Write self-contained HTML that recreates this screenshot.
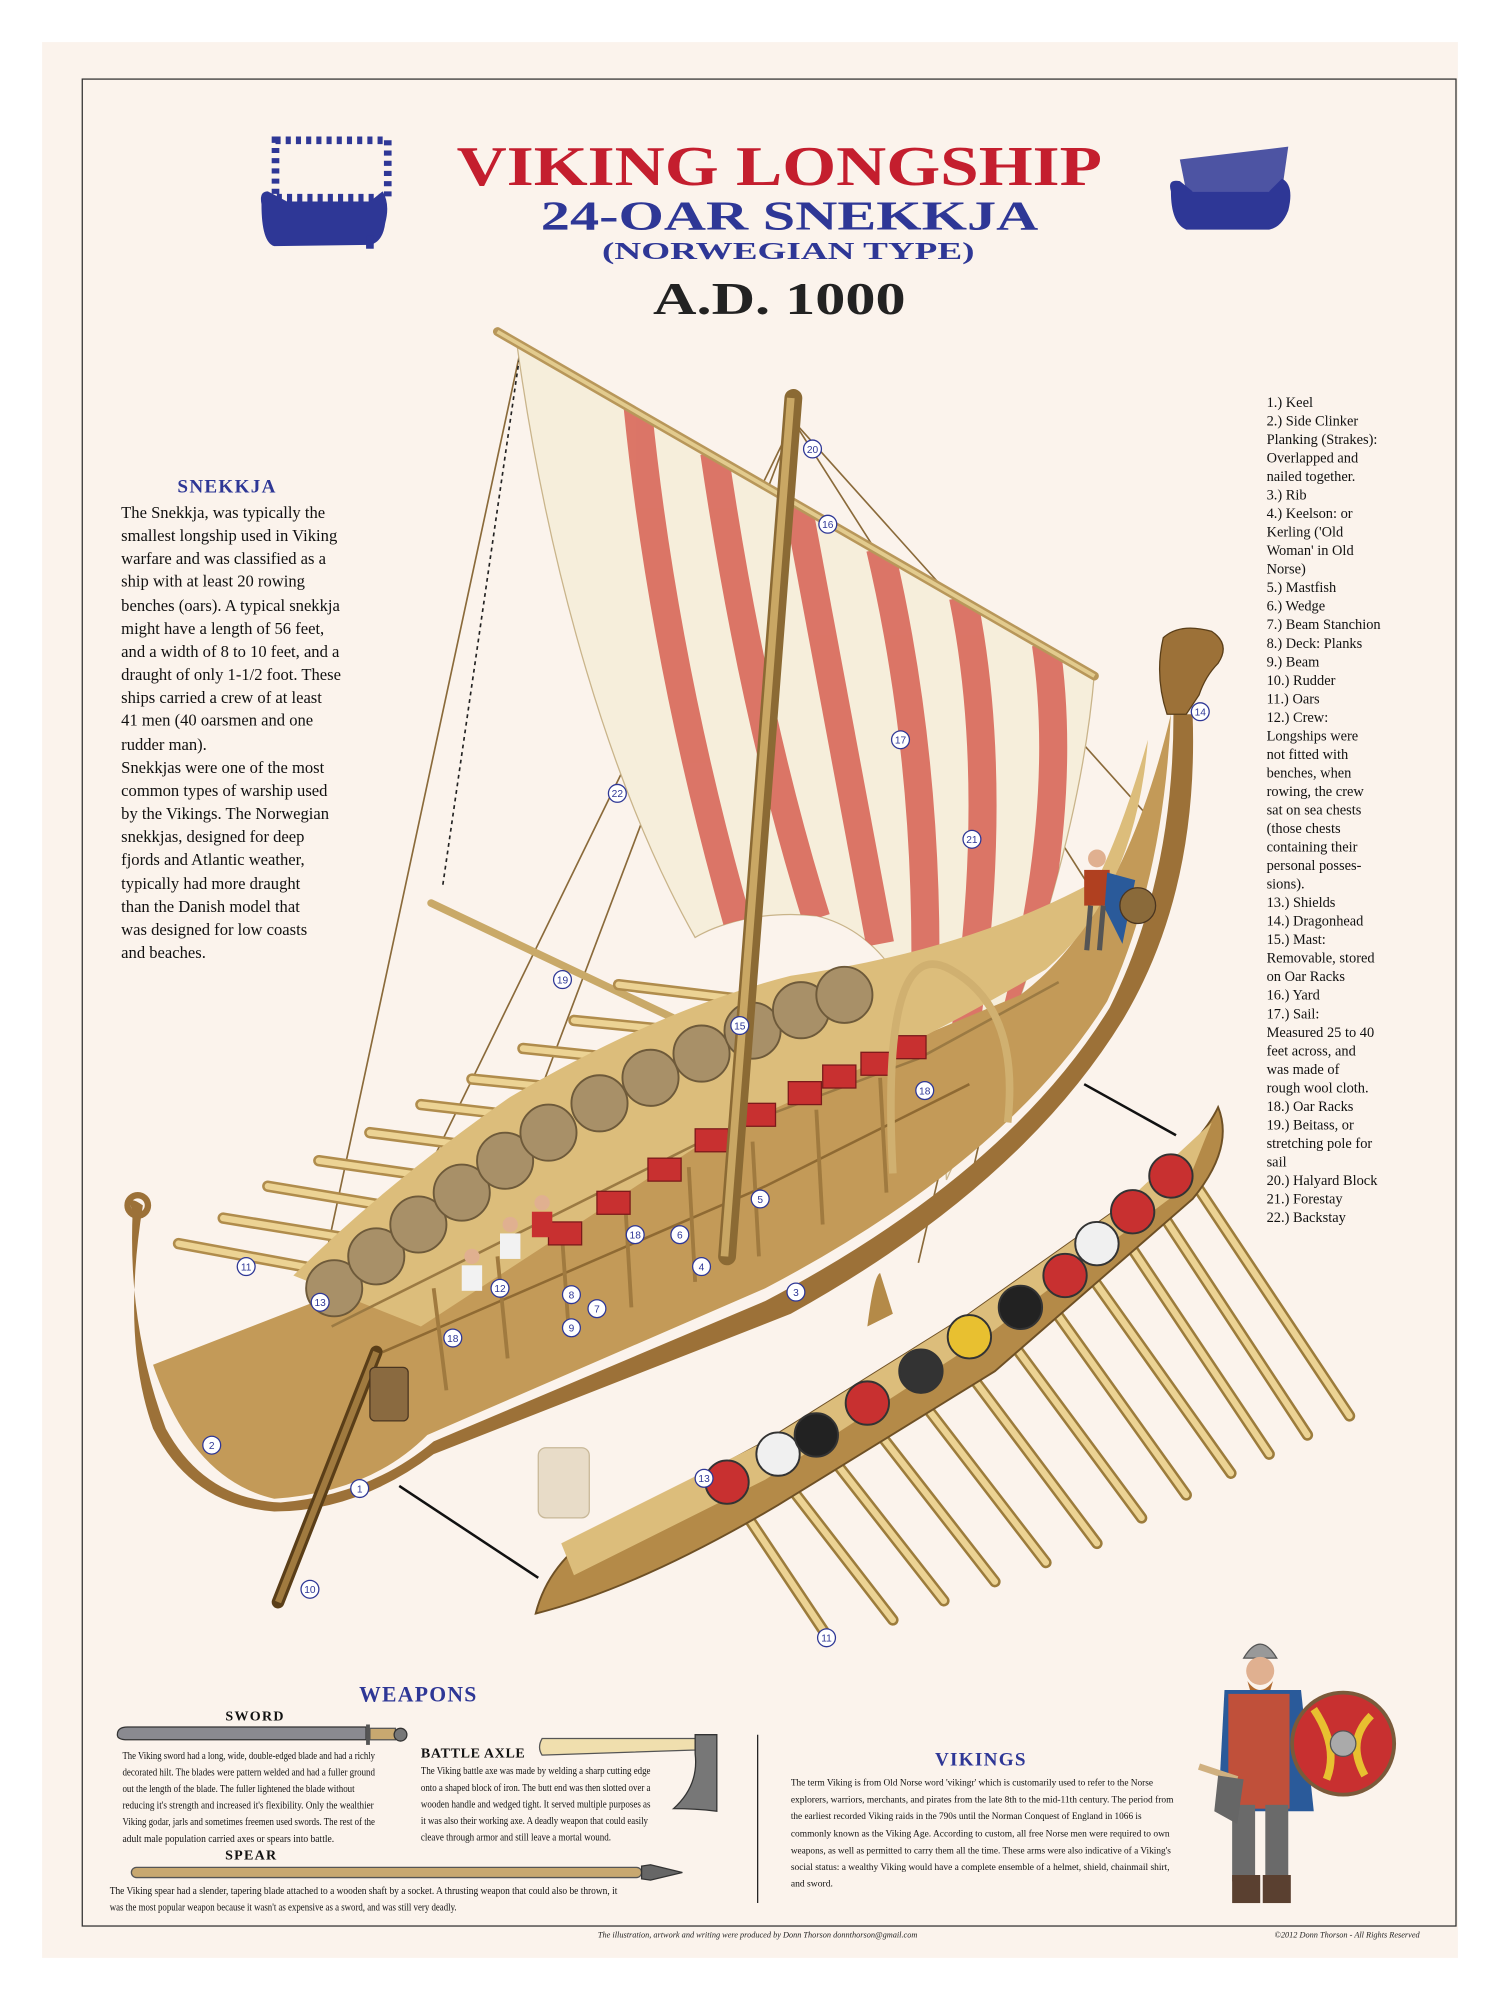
<!DOCTYPE html>
<html><head><meta charset="utf-8"><style>
html,body{margin:0;padding:0;background:#fff;}
svg{display:block;}
.t{font-family:"Liberation Serif",serif;}
</style></head><body>
<svg width="1500" height="2000" viewBox="0 0 1176 1568" xmlns="http://www.w3.org/2000/svg">
<defs>
<clipPath id="sailc"><path d="M405,268 L858,528 C848,650 800,800 742,925 C738,820 710,735 640,718 C580,712 545,735 545,735 C480,620 430,450 405,268Z"/></clipPath>
</defs>
<rect x="0" y="0" width="1176" height="1568" fill="#fff"/>
<rect x="33" y="33" width="1110" height="1502" fill="#fbf3ec"/>
<rect x="64.5" y="62" width="1077" height="1448" fill="none" stroke="#333" stroke-width="1"/>

<!-- logos -->
<g fill="#2e3796">
<rect x="216" y="110" width="88" height="45" fill="none" stroke="#2e3796" stroke-width="6" stroke-dasharray="4 4"/>
<path d="M205,160 Q203,150 210,150 L225,158 L290,158 L300,150 Q306,160 302,175 Q300,190 290,192 L215,193 Q205,190 205,160Z"/>
<rect x="287" y="185" width="6" height="10"/>
<path d="M918,150 Q915,140 925,142 L935,150 L995,150 L1005,140 Q1015,145 1010,165 Q1005,178 995,180 L930,180 Q918,175 918,150Z"/>
<path d="M925,125 L1010,115 L1005,150 L930,150Z" opacity="0.85"/>
</g>

<!-- title -->
<g class="t" text-anchor="middle" font-weight="bold">
<text x="611" y="145" font-size="44" fill="#c41e2e" textLength="506" lengthAdjust="spacingAndGlyphs">VIKING LONGSHIP</text>
<text x="619" y="180" font-size="32" fill="#2e3796" textLength="390" lengthAdjust="spacingAndGlyphs">24-OAR SNEKKJA</text>
<text x="618" y="203" font-size="19" fill="#2e3796" textLength="292" lengthAdjust="spacingAndGlyphs">(NORWEGIAN TYPE)</text>
<text x="611" y="246" font-size="36" fill="#222" textLength="198" lengthAdjust="spacingAndGlyphs">A.D. 1000</text>
</g>

<!-- left text -->
<text x="178" y="386" class="t" font-size="15" font-weight="bold" fill="#2e3796" text-anchor="middle" letter-spacing="1">SNEKKJA</text>
<g class="t" font-size="13" fill="#111">
<text x="95" y="406">The Snekkja, was typically the</text>
<text x="95" y="424">smallest longship used in Viking</text>
<text x="95" y="442">warfare and was classified as a</text>
<text x="95" y="460">ship with at least 20 rowing</text>
<text x="95" y="479">benches (oars). A typical snekkja</text>
<text x="95" y="497">might have a length of  56 feet,</text>
<text x="95" y="515">and a width of 8 to 10 feet, and a</text>
<text x="95" y="533">draught of only 1-1/2 foot.  These</text>
<text x="95" y="551">ships carried a crew of at least</text>
<text x="95" y="569">41 men (40 oarsmen and one</text>
<text x="95" y="588">rudder man).</text>
<text x="95" y="606">Snekkjas were one of the most</text>
<text x="95" y="624">common types of warship used</text>
<text x="95" y="642">by the Vikings.  The Norwegian</text>
<text x="95" y="660">snekkjas, designed for deep</text>
<text x="95" y="678">fjords and Atlantic weather,</text>
<text x="95" y="697">typically had more draught</text>
<text x="95" y="715">than the Danish model that</text>
<text x="95" y="733">was designed for low coasts</text>
<text x="95" y="751">and beaches.</text>
</g>

<!-- right list -->
<g class="t" font-size="11.3" fill="#111">
<text x="993" y="319">1.) Keel</text>
<text x="993" y="333.5">2.) Side Clinker</text>
<text x="993" y="348">Planking (Strakes):</text>
<text x="993" y="362.6">Overlapped and</text>
<text x="993" y="377">nailed together.</text>
<text x="993" y="391.6">3.) Rib</text>
<text x="993" y="406">4.) Keelson: or</text>
<text x="993" y="420.7">Kerling ('Old</text>
<text x="993" y="435">Woman' in Old</text>
<text x="993" y="449.8">Norse)</text>
<text x="993" y="464.3">5.) Mastfish</text>
<text x="993" y="478.8">6.) Wedge</text>
<text x="993" y="493.3">7.) Beam Stanchion</text>
<text x="993" y="508">8.) Deck: Planks</text>
<text x="993" y="522.4">9.) Beam</text>
<text x="993" y="537">10.) Rudder</text>
<text x="993" y="551.4">11.) Oars</text>
<text x="993" y="566">12.) Crew:</text>
<text x="993" y="580.5">Longships were</text>
<text x="993" y="595">not fitted with</text>
<text x="993" y="609.6">benches, when</text>
<text x="993" y="624">rowing, the crew</text>
<text x="993" y="638.6">sat on sea chests</text>
<text x="993" y="653">(those chests</text>
<text x="993" y="667.7">containing their</text>
<text x="993" y="682.2">personal posses-</text>
<text x="993" y="696.7">sions).</text>
<text x="993" y="711.2">13.) Shields</text>
<text x="993" y="725.8">14.) Dragonhead</text>
<text x="993" y="740.3">15.) Mast:</text>
<text x="993" y="754.8">Removable, stored</text>
<text x="993" y="769.3">on Oar Racks</text>
<text x="993" y="783.8">16.) Yard</text>
<text x="993" y="798.4">17.) Sail:</text>
<text x="993" y="813">Measured  25 to 40</text>
<text x="993" y="827.4">feet across, and</text>
<text x="993" y="842">was made of</text>
<text x="993" y="856.5">rough wool cloth.</text>
<text x="993" y="871">18.) Oar Racks</text>
<text x="993" y="885.5">19.) Beitass, or</text>
<text x="993" y="900">stretching pole for</text>
<text x="993" y="914.6">sail</text>
<text x="993" y="929">20.) Halyard Block</text>
<text x="993" y="943.7">21.) Forestay</text>
<text x="993" y="958.2">22.) Backstay</text>
</g>

<!-- rigging -->
<g stroke="#8a6a3a" stroke-width="1.3" fill="none">
<line x1="408" y1="275" x2="250" y2="1010"/>
<line x1="408" y1="275" x2="347" y2="695" stroke-dasharray="3 3" stroke="#222"/>
<line x1="622" y1="330" x2="350" y2="1050"/>
<line x1="622" y1="330" x2="300" y2="990"/>
<line x1="622" y1="330" x2="900" y2="640"/>
<line x1="622" y1="330" x2="870" y2="720"/>
<line x1="830" y1="520" x2="720" y2="990"/>
<line x1="850" y1="530" x2="760" y2="930"/>
</g>

<!-- sail -->
<path d="M405,268 L858,528 C848,650 800,800 742,925 C738,820 710,735 640,718 C580,712 545,735 545,735 C480,620 430,450 405,268Z" fill="#f6eedb" stroke="#c9b48a" stroke-width="1"/>
<g clip-path="url(#sailc)" stroke="#d9685a" stroke-width="22" fill="none" opacity="0.9">
<path d="M500,320 Q520,520 580,730"/>
<path d="M560,355 Q590,560 640,720"/>
<path d="M625,392 Q660,580 690,740"/>
<path d="M690,430 Q730,600 725,790"/>
<path d="M755,468 Q790,640 745,880"/>
<path d="M820,505 Q840,640 790,820"/>
</g>
<!-- yard -->
<line x1="390" y1="260" x2="858" y2="530" stroke="#b8975a" stroke-width="7" stroke-linecap="round"/>
<line x1="390" y1="260" x2="858" y2="530" stroke="#e2cb8e" stroke-width="3"/>
<!-- beitass -->
<line x1="338" y1="708" x2="595" y2="830" stroke="#c9a968" stroke-width="6" stroke-linecap="round"/>

<!-- far oars -->
<g stroke="#b08c4c" stroke-width="9" stroke-linecap="round">
<line x1="140" y1="975" x2="330" y2="1010"/><line x1="175" y1="955" x2="360" y2="985"/><line x1="210" y1="930" x2="390" y2="960"/><line x1="250" y1="910" x2="425" y2="935"/><line x1="290" y1="888" x2="460" y2="910"/><line x1="330" y1="866" x2="495" y2="885"/><line x1="370" y1="846" x2="530" y2="862"/><line x1="410" y1="822" x2="565" y2="838"/><line x1="450" y1="800" x2="600" y2="815"/><line x1="485" y1="772" x2="635" y2="790"/>
</g>
<g stroke="#ecd394" stroke-width="5" stroke-linecap="round">
<line x1="140" y1="975" x2="330" y2="1010"/><line x1="175" y1="955" x2="360" y2="985"/><line x1="210" y1="930" x2="390" y2="960"/><line x1="250" y1="910" x2="425" y2="935"/><line x1="290" y1="888" x2="460" y2="910"/><line x1="330" y1="866" x2="495" y2="885"/><line x1="370" y1="846" x2="530" y2="862"/><line x1="410" y1="822" x2="565" y2="838"/><line x1="450" y1="800" x2="600" y2="815"/><line x1="485" y1="772" x2="635" y2="790"/>
</g>

<!-- main hull -->
<path d="M112,945 Q98,935 104,950 Q100,1040 130,1120 Q160,1175 220,1178 Q290,1172 340,1130 L600,1020 Q790,920 870,790 Q920,690 920,560 L935,560 Q940,700 880,800 Q800,930 620,1030 L340,1140 Q280,1185 215,1185 Q150,1180 120,1120 Q95,1050 112,945Z" fill="#9c7138"/>
<path d="M120,1070 Q150,1160 215,1175 Q290,1170 335,1125 L600,1010 Q790,910 868,785 Q912,690 918,560 Q880,720 800,780 L560,880 L300,1000 Z" fill="#c39a58"/>
<!-- interior -->
<path d="M230,1000 Q300,930 400,860 Q520,790 620,765 Q760,745 860,690 Q880,650 900,580 Q890,700 820,760 Q700,830 560,890 L330,1040 Z" fill="#dcbd7b"/>
<path d="M260,1040 L560,890 L720,830 L830,770" stroke="#9b7a43" stroke-width="2" fill="none"/>
<path d="M300,1060 L600,930 L760,850" stroke="#8f6a33" stroke-width="2" fill="none"/>
<!-- ribs -->
<g stroke="#a07a3f" stroke-width="3">
<line x1="340" y1="1010" x2="350" y2="1090"/><line x1="390" y1="985" x2="398" y2="1065"/><line x1="440" y1="960" x2="446" y2="1045"/><line x1="490" y1="940" x2="495" y2="1025"/><line x1="540" y1="915" x2="545" y2="1005"/><line x1="590" y1="895" x2="595" y2="985"/><line x1="640" y1="870" x2="645" y2="960"/><line x1="690" y1="845" x2="695" y2="935"/>
</g>
<!-- chests -->
<g fill="#c83030" stroke="#7a1a1a" stroke-width="1">
<rect x="430" y="958" width="26" height="18"/><rect x="468" y="934" width="26" height="18"/><rect x="508" y="908" width="26" height="18"/><rect x="545" y="885" width="26" height="18"/><rect x="582" y="865" width="26" height="18"/><rect x="618" y="848" width="26" height="18"/><rect x="645" y="835" width="26" height="18"/><rect x="675" y="825" width="26" height="18"/><rect x="700" y="812" width="26" height="18"/>
</g>
<!-- shields -->
<g fill="#a89068" stroke="#6e5a3a" stroke-width="1.5">
<circle cx="262" cy="1010" r="22"/><circle cx="295" cy="985" r="22"/><circle cx="328" cy="960" r="22"/><circle cx="362" cy="935" r="22"/><circle cx="396" cy="910" r="22"/><circle cx="430" cy="888" r="22"/><circle cx="470" cy="865" r="22"/><circle cx="510" cy="845" r="22"/><circle cx="550" cy="826" r="22"/><circle cx="590" cy="808" r="22"/><circle cx="628" cy="792" r="22"/><circle cx="662" cy="780" r="22"/>
</g>
<!-- oar rack arch -->
<path d="M700,920 Q690,730 745,760 Q800,790 790,880" fill="none" stroke="#d0b070" stroke-width="6"/>
<!-- mast -->
<line x1="622" y1="312" x2="570" y2="985" stroke="#8b6a34" stroke-width="14" stroke-linecap="round"/>
<line x1="620" y1="312" x2="568" y2="985" stroke="#c9a764" stroke-width="6"/>
<!-- dragonhead -->
<path d="M912,500 Q925,488 950,495 Q965,505 955,520 Q945,530 940,545 L930,560 L915,560 Q905,530 912,500Z" fill="#9c7138" stroke="#5a3e18" stroke-width="1"/>
<!-- stern post curl -->
<circle cx="108" cy="945" r="8" fill="none" stroke="#9c7138" stroke-width="5"/>
<!-- rudder -->
<line x1="295" y1="1060" x2="218" y2="1256" stroke="#5a3e18" stroke-width="10" stroke-linecap="round"/>
<line x1="295" y1="1060" x2="218" y2="1256" stroke="#a07a3f" stroke-width="5"/>
<!-- barrel -->
<rect x="290" y="1072" width="30" height="42" rx="4" fill="#8a6a40" stroke="#4a3520"/>
<!-- figure on bow -->
<g>
<circle cx="860" cy="673" r="7" fill="#e0b090"/>
<rect x="850" y="682" width="20" height="28" fill="#b04020"/>
<path d="M868,684 L890,690 L880,740 L866,712Z" fill="#2a5a9a"/>
<circle cx="892" cy="710" r="14" fill="#8a6a3a" stroke="#4a3520"/>
<line x1="855" y1="710" x2="852" y2="745" stroke="#555" stroke-width="4"/>
<line x1="865" y1="710" x2="862" y2="745" stroke="#555" stroke-width="4"/>
</g>
<!-- crew -->
<g>
<circle cx="370" cy="985" r="6" fill="#e0b090"/><rect x="362" y="992" width="16" height="20" fill="#f2f2f2"/>
<circle cx="400" cy="960" r="6" fill="#e0b090"/><rect x="392" y="967" width="16" height="20" fill="#f2f2f2"/>
<circle cx="425" cy="943" r="6" fill="#e0b090"/><rect x="417" y="950" width="16" height="20" fill="#c83030"/>
</g>

<!-- lower ship oars -->
<g stroke="#9c7c3c" stroke-width="9" stroke-linecap="round">
<line x1="580" y1="1180" x2="650" y2="1285"/><line x1="615" y1="1160" x2="700" y2="1270"/><line x1="650" y1="1140" x2="740" y2="1255"/><line x1="685" y1="1118" x2="780" y2="1240"/><line x1="720" y1="1095" x2="820" y2="1225"/><line x1="755" y1="1070" x2="860" y2="1210"/><line x1="790" y1="1048" x2="895" y2="1190"/><line x1="825" y1="1025" x2="930" y2="1172"/><line x1="855" y1="1000" x2="965" y2="1155"/><line x1="885" y1="975" x2="995" y2="1140"/><line x1="910" y1="950" x2="1025" y2="1125"/><line x1="935" y1="925" x2="1058" y2="1110"/>
</g>
<g stroke="#ecd394" stroke-width="5" stroke-linecap="round">
<line x1="580" y1="1180" x2="650" y2="1285"/><line x1="615" y1="1160" x2="700" y2="1270"/><line x1="650" y1="1140" x2="740" y2="1255"/><line x1="685" y1="1118" x2="780" y2="1240"/><line x1="720" y1="1095" x2="820" y2="1225"/><line x1="755" y1="1070" x2="860" y2="1210"/><line x1="790" y1="1048" x2="895" y2="1190"/><line x1="825" y1="1025" x2="930" y2="1172"/><line x1="855" y1="1000" x2="965" y2="1155"/><line x1="885" y1="975" x2="995" y2="1140"/><line x1="910" y1="950" x2="1025" y2="1125"/><line x1="935" y1="925" x2="1058" y2="1110"/>
</g>
<!-- lower hull -->
<path d="M420,1265 Q430,1225 470,1200 L600,1130 L760,1030 L880,945 Q940,900 955,868 Q968,900 935,940 L780,1075 L610,1180 Q500,1245 420,1265Z" fill="#b48a48" stroke="#6e5025" stroke-width="1.5"/>
<path d="M440,1210 L600,1130 L760,1030 L880,945 L950,880 L930,930 L770,1050 L600,1160 L450,1235Z" fill="#dcbd7b"/>
<path d="M680,1040 Q685,1000 690,998 L700,1030Z" fill="#b48a48"/>
<!-- lower shields -->
<g stroke="#333" stroke-width="1.5">
<circle cx="570" cy="1162" r="17" fill="#c83030"/><circle cx="610" cy="1140" r="17" fill="#f0f0f0"/><circle cx="640" cy="1125" r="17" fill="#222"/><circle cx="680" cy="1100" r="17" fill="#c83030"/><circle cx="722" cy="1075" r="17" fill="#333"/><circle cx="760" cy="1048" r="17" fill="#e8c030"/><circle cx="800" cy="1025" r="17" fill="#222"/><circle cx="835" cy="1000" r="17" fill="#c83030"/><circle cx="860" cy="975" r="17" fill="#f0f0f0"/><circle cx="888" cy="950" r="17" fill="#c83030"/><circle cx="918" cy="922" r="17" fill="#c83030"/>
</g>
<!-- lower barrel -->
<rect x="422" y="1135" width="40" height="55" rx="6" fill="#e8dcc8" stroke="#c8b898"/>
<!-- leader lines -->
<line x1="850" y1="850" x2="922" y2="890" stroke="#111" stroke-width="2"/>
<line x1="313" y1="1165" x2="422" y2="1237" stroke="#111" stroke-width="2"/>

<!-- number labels -->
<g font-family="Liberation Sans,sans-serif" font-size="8" fill="#2e3796" text-anchor="middle">
<g fill="#fff" stroke="#2e3796" stroke-width="1">
<circle cx="637" cy="352" r="7"/><circle cx="649" cy="411" r="7"/><circle cx="706" cy="580" r="7"/><circle cx="484" cy="622" r="7"/><circle cx="762" cy="658" r="7"/><circle cx="941" cy="558" r="7"/><circle cx="441" cy="768" r="7"/><circle cx="580" cy="804" r="7"/><circle cx="725" cy="855" r="7"/><circle cx="596" cy="940" r="7"/><circle cx="533" cy="968" r="7"/><circle cx="498" cy="968" r="7"/><circle cx="550" cy="993" r="7"/><circle cx="624" cy="1013" r="7"/><circle cx="193" cy="993" r="7"/><circle cx="251" cy="1021" r="7"/><circle cx="392" cy="1010" r="7"/><circle cx="448" cy="1015" r="7"/><circle cx="468" cy="1026" r="7"/><circle cx="448" cy="1041" r="7"/><circle cx="355" cy="1049" r="7"/><circle cx="166" cy="1133" r="7"/><circle cx="282" cy="1167" r="7"/><circle cx="243" cy="1246" r="7"/><circle cx="552" cy="1159" r="7"/><circle cx="648" cy="1284" r="7"/>
</g>
<text x="637" y="355">20</text><text x="649" y="414">16</text><text x="706" y="583">17</text><text x="484" y="625">22</text><text x="762" y="661">21</text><text x="941" y="561">14</text><text x="441" y="771">19</text><text x="580" y="807">15</text><text x="725" y="858">18</text><text x="596" y="943">5</text><text x="533" y="971">6</text><text x="498" y="971">18</text><text x="550" y="996">4</text><text x="624" y="1016">3</text><text x="193" y="996">11</text><text x="251" y="1024">13</text><text x="392" y="1013">12</text><text x="448" y="1018">8</text><text x="468" y="1029">7</text><text x="448" y="1044">9</text><text x="355" y="1052">18</text><text x="166" y="1136">2</text><text x="282" y="1170">1</text><text x="243" y="1249">10</text><text x="552" y="1162">13</text><text x="648" y="1287">11</text>
</g>

<!-- warrior bottom right -->
<g>
<path d="M975,1300 Q988,1278 1001,1300Z" fill="#999" stroke="#555"/>
<circle cx="988" cy="1310" r="11" fill="#e0b090"/>
<path d="M978,1318 Q988,1332 998,1318 L996,1325 Q988,1335 980,1325Z" fill="#b06a30"/>
<path d="M960,1325 L1020,1325 L1030,1420 L955,1420Z" fill="#2a5a9a"/>
<rect x="963" y="1328" width="48" height="90" fill="#c0503a"/>
<rect x="966" y="1415" width="18" height="60" fill="#6a6a6a"/>
<rect x="992" y="1415" width="18" height="60" fill="#6a6a6a"/>
<rect x="966" y="1470" width="22" height="22" fill="#5a4030"/>
<rect x="990" y="1470" width="22" height="22" fill="#5a4030"/>
<line x1="940" y1="1385" x2="970" y2="1395" stroke="#d0b080" stroke-width="5"/>
<path d="M955,1392 L975,1395 L970,1430 L952,1420Z" fill="#666"/>
<circle cx="1053" cy="1367" r="40" fill="#c83030" stroke="#7a5a3a" stroke-width="3"/>
<path d="M1030,1340 Q1050,1370 1040,1395 M1075,1345 Q1055,1365 1070,1392" stroke="#e8c030" stroke-width="6" fill="none"/>
<circle cx="1053" cy="1367" r="10" fill="#aaa" stroke="#555"/>
</g>

<!-- weapons -->
<text x="328" y="1334" class="t" font-size="17" font-weight="bold" fill="#2e3796" text-anchor="middle" letter-spacing="1">WEAPONS</text>
<text x="200" y="1349" class="t" font-size="11" font-weight="bold" fill="#111" text-anchor="middle" letter-spacing="1">SWORD</text>
<path d="M92,1360 Q92,1354 100,1354 L287,1354 L287,1364 L100,1364 Q92,1364 92,1360Z" fill="#8a8a90" stroke="#333"/>
<rect x="287" y="1352" width="3" height="16" fill="#555"/>
<rect x="290" y="1355" width="20" height="9" fill="#c8a870" stroke="#555"/>
<circle cx="314" cy="1360" r="5" fill="#777" stroke="#333"/>
<g class="t" font-size="8" fill="#111">
<text x="96" y="1379" textLength="198" lengthAdjust="spacingAndGlyphs">The Viking sword had a long, wide, double-edged blade and had a richly</text>
<text x="96" y="1392" textLength="198" lengthAdjust="spacingAndGlyphs">decorated hilt. The blades were pattern welded and had a fuller ground</text>
<text x="96" y="1405" textLength="182" lengthAdjust="spacingAndGlyphs">out the length of the blade. The fuller lightened the blade without</text>
<text x="96" y="1418" textLength="197" lengthAdjust="spacingAndGlyphs">reducing it's strength and increased it's flexibility.  Only the wealthier</text>
<text x="96" y="1431" textLength="198" lengthAdjust="spacingAndGlyphs">Viking godar, jarls and sometimes freemen used swords. The rest of the</text>
<text x="96" y="1444" textLength="166" lengthAdjust="spacingAndGlyphs">adult male population carried axes or spears into battle.</text>
</g>
<text x="330" y="1378" class="t" font-size="11" font-weight="bold" fill="#111" letter-spacing="0.5">BATTLE AXLE</text>
<path d="M425,1363 L545,1363 L545,1372 L425,1376 Q421,1370 425,1363Z" fill="#f0dfae" stroke="#555"/>
<path d="M545,1360 L562,1360 L562,1420 Q545,1418 528,1418 Q548,1400 545,1375Z" fill="#777" stroke="#333"/>
<g class="t" font-size="8" fill="#111">
<text x="330" y="1391" textLength="180" lengthAdjust="spacingAndGlyphs">The Viking battle axe was made by welding a sharp cutting edge</text>
<text x="330" y="1404" textLength="180" lengthAdjust="spacingAndGlyphs">onto a shaped block of iron. The butt end was then slotted over a</text>
<text x="330" y="1417" textLength="180" lengthAdjust="spacingAndGlyphs">wooden handle and wedged tight. It served multiple purposes as</text>
<text x="330" y="1430" textLength="178" lengthAdjust="spacingAndGlyphs">it was also their working axe. A deadly weapon that could easily</text>
<text x="330" y="1443" textLength="149" lengthAdjust="spacingAndGlyphs">cleave through armor and still leave a mortal wound.</text>
</g>
<text x="197" y="1458" class="t" font-size="11" font-weight="bold" fill="#111" text-anchor="middle" letter-spacing="1">SPEAR</text>
<rect x="103" y="1464" width="400" height="8" rx="4" fill="#c8a870" stroke="#555"/>
<path d="M503,1463 L510,1462 L535,1468 L510,1474 L503,1473Z" fill="#666" stroke="#333"/>
<g class="t" font-size="8" fill="#111">
<text x="86" y="1485" textLength="398" lengthAdjust="spacingAndGlyphs">The Viking spear  had a slender, tapering blade attached to a wooden shaft by a socket.  A thrusting weapon that could also be thrown, it</text>
<text x="86" y="1498" textLength="272" lengthAdjust="spacingAndGlyphs">was the most popular weapon  because it wasn't as expensive as a sword, and was still very deadly.</text>
</g>
<line x1="594" y1="1360" x2="594" y2="1492" stroke="#222" stroke-width="1"/>

<text x="769" y="1384" class="t" font-size="15" font-weight="bold" fill="#2e3796" text-anchor="middle" letter-spacing="1">VIKINGS</text>
<g class="t" font-size="7.8" fill="#111">
<text x="620" y="1400" textLength="284" lengthAdjust="spacingAndGlyphs">The term Viking  is from Old Norse word 'vikingr'  which is  customarily used to refer to the Norse</text>
<text x="620" y="1413" textLength="300" lengthAdjust="spacingAndGlyphs">explorers, warriors, merchants, and pirates from the late 8th to the mid-11th century. The period from</text>
<text x="620" y="1426" textLength="275" lengthAdjust="spacingAndGlyphs">the earliest recorded Viking raids in the 790s until the Norman Conquest of England in 1066 is</text>
<text x="620" y="1440" textLength="297" lengthAdjust="spacingAndGlyphs">commonly known as the Viking Age.  According to custom, all free Norse men were required to own</text>
<text x="620" y="1453" textLength="298" lengthAdjust="spacingAndGlyphs">weapons, as well as permitted to carry them all the time. These arms were also indicative of a Viking's</text>
<text x="620" y="1466" textLength="297" lengthAdjust="spacingAndGlyphs">social status: a wealthy Viking would have a complete ensemble of a helmet, shield, chainmail shirt,</text>
<text x="620" y="1479" textLength="33" lengthAdjust="spacingAndGlyphs">and sword.</text>
</g>

<g class="t" font-size="6.5" font-style="italic" fill="#222">
<text x="594" y="1519" text-anchor="middle">The illustration, artwork and writing were produced by Donn Thorson donnthorson@gmail.com</text>
<text x="1113" y="1519" text-anchor="end">©2012 Donn Thorson - All Rights Reserved</text>
</g>
</svg>
</body></html>
